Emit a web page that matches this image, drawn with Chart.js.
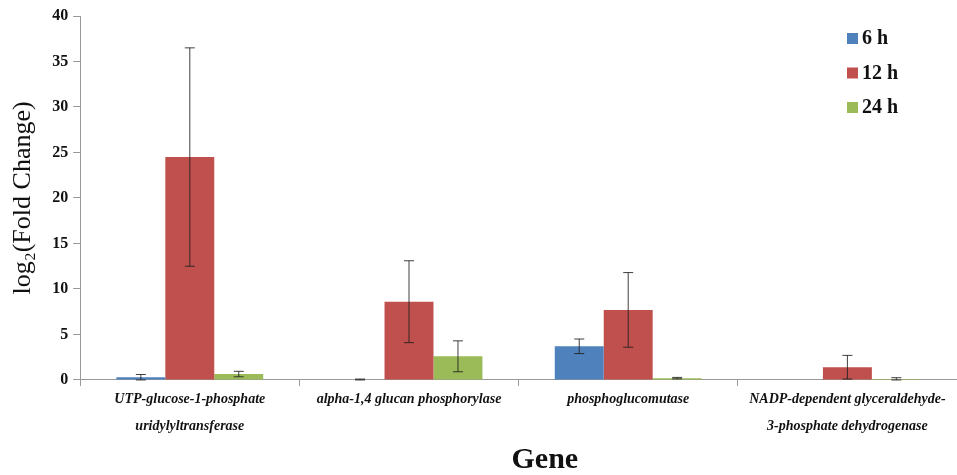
<!DOCTYPE html>
<html>
<head>
<meta charset="utf-8">
<script src="https://cdn.jsdelivr.net/npm/chart.js@4.4.1/dist/chart.umd.min.js"></script>
<style>
  html, body { margin: 0; padding: 0; background: #fff; overflow: hidden; }
  #wrap { width: 957px; height: 475px; position: relative; }
</style>
</head>
<body>
<div id="wrap"><canvas id="myChart" width="957" height="475"></canvas></div>
<script>
var genes = [
	['UTP-glucose-1-phosphate', 'uridylyltransferase'],
	'alpha-1,4 glucan phosphorylase',
	'phosphoglucomutase',
	['NADP-dependent glyceraldehyde-', '3-phosphate dehydrogenase']
];
var seriesLabels = ['6 h', '12 h', '24 h'];
var values6h = [0.3, 0, 3.7, 0];
var values12h = [24.5, 8.6, 7.7, 1.4];
var values24h = [0.65, 2.6, 0.2, 0.1];
var err6h = [0.3, 0.1, 0.8, 0];
var err12h = [12, 4.5, 4.1, 1.3];
var err24h = [0.3, 1.7, 0.08, 0.15];
var yTicks = [0, 5, 10, 15, 20, 25, 30, 35, 40];

var serif = "'Liberation Serif', 'Times New Roman', serif";

// error bars drawn from the value scale
var errorBars = {
	id: 'errorBars',
	afterDatasetsDraw: function(chart) {
		var c = chart.ctx;
		var ys = chart.scales.y;
		c.save();
		c.strokeStyle = 'rgba(30,30,30,0.85)';
		c.lineWidth = 1;
		chart.data.datasets.forEach(function(ds, di) {
			var meta = chart.getDatasetMeta(di);
			ds.errors.forEach(function(e, i) {
				if (!e) return;
				var x = meta.data[i].x;
				var top = ys.getPixelForValue(ds.data[i] + e);
				var bot = ys.getPixelForValue(Math.max(ds.data[i] - e, 0));
				c.beginPath();
				c.moveTo(x, top); c.lineTo(x, bot);
				c.moveTo(x - 5, top); c.lineTo(x + 5, top);
				c.moveTo(x - 5, bot); c.lineTo(x + 5, bot);
				c.stroke();
			});
		});
		c.restore();
	}
};

// legend in the top right corner, over the plot
var cornerLegend = {
	id: 'cornerLegend',
	afterDraw: function(chart) {
		var c = chart.ctx;
		c.save();
		c.font = 'bold 20px ' + serif;
		c.textBaseline = 'middle';
		chart.data.datasets.forEach(function(ds, i) {
			var y = 38 + i * 34.5;
			c.fillStyle = ds.backgroundColor;
			c.fillRect(847, y - 5, 11, 11);
			c.fillStyle = '#111';
			c.fillText(ds.label, 862, y + 1);
		});
		c.restore();
	}
};

var ctx = document.getElementById('myChart').getContext('2d');

var barChart = new Chart(ctx, {
	type: 'bar',
	data: {
		labels: genes,
		datasets: [{
			label: seriesLabels[0],
			data: values6h,
			errors: err6h,
			backgroundColor: '#4F81BD'
		}, {
			label: seriesLabels[1],
			data: values12h,
			errors: err12h,
			backgroundColor: '#C0504D'
		}, {
			label: seriesLabels[2],
			data: values24h,
			errors: err24h,
			backgroundColor: '#9BBB59'
		}]
	},
	options: {
		responsive: false,
		animation: false,
		layout: { padding: { top: 16, left: 8, right: 0, bottom: 0 } },
		datasets: {
			bar: { categoryPercentage: 0.67, barPercentage: 1.0 }
		},
		plugins: {
			legend: { display: false },
			tooltip: { enabled: false }
		},
		scales: {
			x: {
				grid: {
					offset: true,
					drawOnChartArea: false,
					color: '#999',
					tickLength: 6
				},
				border: { color: '#999' },
				ticks: {
					color: '#111',
					maxRotation: 0,
					autoSkip: false,
					padding: 0,
					font: { family: serif, size: 14, weight: 'bold', style: 'italic', lineHeight: 1.93 }
				},
				title: {
					display: true,
					text: '       Gene',
					color: '#111',
					padding: { top: 5, bottom: 0 },
					font: { family: serif, size: 30, weight: 'bold', lineHeight: 1.0 }
				}
			},
			y: {
				min: 0,
				max: 40,
				afterBuildTicks: function(axis) {
					axis.ticks = yTicks.map(function(v) { return { value: v }; });
				},
				grid: {
					drawOnChartArea: false,
					color: '#999',
					tickLength: 7
				},
				border: { color: '#999' },
				ticks: {
					color: '#111',
					padding: 5,
					font: { family: serif, size: 16, weight: 'bold' }
				},
				title: {
					display: true,
					text: 'log\u2082(Fold Change)',
					color: '#111',
					padding: { top: 0, bottom: 8 },
					font: { family: serif, size: 26 }
				}
			}
		}
	},
	plugins: [errorBars, cornerLegend]
});
</script>
</body>
</html>
